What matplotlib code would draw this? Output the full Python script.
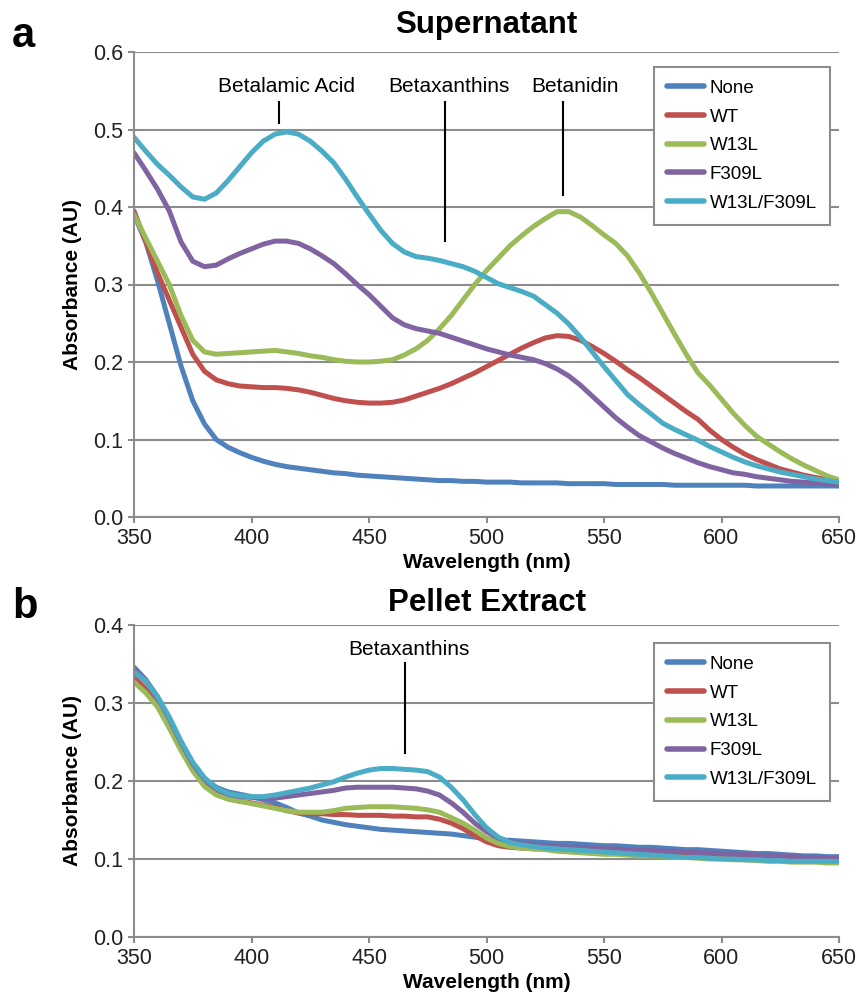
import matplotlib
matplotlib.use("Agg")
import matplotlib.pyplot as plt
from matplotlib.ticker import FormatStrFormatter

plt.rcParams['font.family'] = ['Liberation Sans', 'DejaVu Sans']

# Comprimentos de onda (nm), passo de 5 nm
wavelength = list(range(350, 655, 5))

series = ["None", "WT", "W13L", "F309L", "W13L/F309L"]
colors = ["#4F81BD", "#C0504D", "#9BBB59", "#8064A2", "#4BACC6"]

# --- Sobrenadante ---
sup_none = [0.390, 0.355, 0.305, 0.250, 0.195, 0.150, 0.120, 0.100, 0.090, 0.083,
            0.077, 0.072, 0.068, 0.065, 0.063, 0.061, 0.059, 0.057, 0.056, 0.054,
            0.053, 0.052, 0.051, 0.050, 0.049, 0.048, 0.047, 0.047, 0.046, 0.046,
            0.045, 0.045, 0.045, 0.044, 0.044, 0.044, 0.044, 0.043, 0.043, 0.043,
            0.043, 0.042, 0.042, 0.042, 0.042, 0.042, 0.041, 0.041, 0.041, 0.041,
            0.041, 0.041, 0.041, 0.040, 0.040, 0.040, 0.040, 0.040, 0.040, 0.040,
            0.040]
sup_wt = [0.395, 0.355, 0.315, 0.280, 0.245, 0.210, 0.188, 0.177, 0.172, 0.169,
          0.168, 0.167, 0.167, 0.166, 0.164, 0.161, 0.157, 0.153, 0.150, 0.148,
          0.147, 0.147, 0.148, 0.151, 0.156, 0.161, 0.166, 0.172, 0.179, 0.186,
          0.194, 0.202, 0.210, 0.218, 0.225, 0.231, 0.234, 0.233, 0.228, 0.220,
          0.211, 0.201, 0.190, 0.180, 0.169, 0.158, 0.147, 0.136, 0.126, 0.112,
          0.100, 0.090, 0.081, 0.074, 0.068, 0.062, 0.058, 0.054, 0.051, 0.048,
          0.046]
sup_w13l = [0.390, 0.360, 0.330, 0.300, 0.260, 0.228, 0.213, 0.210, 0.211, 0.212,
            0.213, 0.214, 0.215, 0.213, 0.211, 0.208, 0.206, 0.203, 0.201, 0.200,
            0.200, 0.201, 0.203, 0.209, 0.217, 0.228, 0.243, 0.260, 0.280, 0.300,
            0.318, 0.334, 0.350, 0.363, 0.375, 0.385, 0.394, 0.394, 0.387, 0.376,
            0.364, 0.353, 0.337, 0.315, 0.290, 0.263, 0.236, 0.210, 0.186, 0.170,
            0.152, 0.134, 0.118, 0.104, 0.094, 0.084, 0.075, 0.067, 0.060, 0.053,
            0.048]
sup_f309l = [0.470, 0.447, 0.423, 0.395, 0.355, 0.330, 0.323, 0.325, 0.333, 0.340,
             0.346, 0.352, 0.356, 0.356, 0.353, 0.346, 0.337, 0.327, 0.314, 0.300,
             0.287, 0.272, 0.257, 0.248, 0.243, 0.240, 0.237, 0.232, 0.227, 0.222,
             0.217, 0.213, 0.209, 0.206, 0.203, 0.198, 0.191, 0.182, 0.170, 0.156,
             0.142, 0.128, 0.116, 0.105, 0.097, 0.089, 0.082, 0.076, 0.070, 0.065,
             0.061, 0.057, 0.055, 0.052, 0.050, 0.048, 0.046, 0.045, 0.044, 0.043,
             0.042]
sup_double = [0.490, 0.472, 0.455, 0.441, 0.426, 0.413, 0.410, 0.418, 0.434, 0.452,
              0.470, 0.485, 0.494, 0.497, 0.494, 0.485, 0.472, 0.457, 0.436, 0.413,
              0.391, 0.370, 0.353, 0.342, 0.336, 0.334, 0.331, 0.327, 0.323, 0.317,
              0.309, 0.301, 0.296, 0.291, 0.285, 0.274, 0.263, 0.249, 0.232, 0.213,
              0.194, 0.176, 0.158, 0.145, 0.133, 0.121, 0.113, 0.106, 0.099, 0.091,
              0.084, 0.077, 0.071, 0.066, 0.062, 0.058, 0.055, 0.052, 0.049, 0.047,
              0.045]

# --- Extrato do pellet ---
pel_none = [0.346, 0.330, 0.308, 0.280, 0.249, 0.223, 0.203, 0.192, 0.186, 0.183,
            0.180, 0.176, 0.172, 0.166, 0.159, 0.155, 0.150, 0.147, 0.144, 0.142,
            0.140, 0.138, 0.137, 0.136, 0.135, 0.134, 0.133, 0.132, 0.130, 0.128,
            0.126, 0.124, 0.124, 0.123, 0.122, 0.121, 0.120, 0.120, 0.119, 0.118,
            0.117, 0.117, 0.116, 0.115, 0.115, 0.114, 0.113, 0.112, 0.112, 0.111,
            0.110, 0.109, 0.108, 0.107, 0.107, 0.106, 0.105, 0.104, 0.104, 0.103,
            0.103]
pel_wt = [0.333, 0.318, 0.298, 0.272, 0.243, 0.216, 0.196, 0.184, 0.177, 0.174,
          0.172, 0.169, 0.166, 0.162, 0.159, 0.158, 0.158, 0.157, 0.157, 0.156,
          0.156, 0.156, 0.155, 0.155, 0.154, 0.154, 0.151, 0.146, 0.139, 0.130,
          0.122, 0.117, 0.115, 0.114, 0.113, 0.113, 0.112, 0.112, 0.111, 0.111,
          0.110, 0.110, 0.109, 0.108, 0.108, 0.107, 0.107, 0.106, 0.106, 0.105,
          0.105, 0.104, 0.104, 0.103, 0.103, 0.102, 0.102, 0.101, 0.101, 0.100,
          0.100]
pel_w13l = [0.327, 0.313, 0.295, 0.268, 0.239, 0.213, 0.193, 0.182, 0.177, 0.174,
            0.171, 0.168, 0.165, 0.162, 0.160, 0.160, 0.160, 0.162, 0.165, 0.166,
            0.167, 0.167, 0.167, 0.166, 0.165, 0.163, 0.160, 0.153, 0.146, 0.137,
            0.127, 0.120, 0.116, 0.114, 0.113, 0.112, 0.110, 0.109, 0.108, 0.107,
            0.106, 0.106, 0.105, 0.104, 0.104, 0.103, 0.102, 0.102, 0.101, 0.100,
            0.100, 0.099, 0.099, 0.098, 0.097, 0.097, 0.096, 0.096, 0.096, 0.095,
            0.095]
pel_f309l = [0.343, 0.328, 0.307, 0.280, 0.249, 0.222, 0.202, 0.190, 0.183, 0.180,
             0.179, 0.178, 0.178, 0.180, 0.182, 0.184, 0.186, 0.188, 0.191, 0.192,
             0.192, 0.192, 0.192, 0.191, 0.190, 0.187, 0.182, 0.172, 0.160, 0.146,
             0.135, 0.127, 0.122, 0.120, 0.118, 0.117, 0.116, 0.115, 0.115, 0.114,
             0.113, 0.113, 0.112, 0.111, 0.111, 0.110, 0.110, 0.109, 0.108, 0.108,
             0.107, 0.106, 0.106, 0.105, 0.104, 0.104, 0.103, 0.102, 0.102, 0.101,
             0.101]
pel_double = [0.340, 0.328, 0.308, 0.282, 0.251, 0.224, 0.204, 0.191, 0.184, 0.181,
              0.180, 0.180, 0.182, 0.185, 0.188, 0.191, 0.195, 0.199, 0.205, 0.210,
              0.214, 0.216, 0.216, 0.215, 0.214, 0.212, 0.205, 0.192, 0.176, 0.157,
              0.140, 0.128, 0.121, 0.118, 0.116, 0.114, 0.113, 0.112, 0.111, 0.110,
              0.109, 0.108, 0.107, 0.106, 0.105, 0.104, 0.103, 0.102, 0.102, 0.101,
              0.100, 0.100, 0.099, 0.099, 0.098, 0.098, 0.097, 0.097, 0.097, 0.097,
              0.097]

supernatant = [sup_none, sup_wt, sup_w13l, sup_f309l, sup_double]
pellet = [pel_none, pel_wt, pel_w13l, pel_f309l, pel_double]

GRID = "#8c8c8c"


def estilo_eixo(ax, ymax):
    ax.set_xlim(350, 650)
    ax.set_ylim(0, ymax)
    ax.set_xticks(range(350, 651, 50))
    ax.set_yticks([i / 10 for i in range(int(round(ymax * 10)) + 1)])
    ax.yaxis.set_major_formatter(FormatStrFormatter('%.1f'))
    ax.grid(axis="y", color=GRID, linewidth=1.5)
    ax.set_axisbelow(True)
    for lado in ["top", "right"]:
        ax.spines[lado].set_visible(False)
    for lado in ["left", "bottom"]:
        ax.spines[lado].set_color(GRID)
        ax.spines[lado].set_linewidth(1.5)
    ax.tick_params(axis="both", colors=GRID, labelcolor="#222222",
                   labelsize=15.5, length=4, width=1.5, pad=4)
    ax.set_xlabel("Wavelength (nm)", fontsize=15, fontweight="bold", labelpad=3)
    ax.set_ylabel("Absorbance (AU)", fontsize=15, fontweight="bold", labelpad=8)


def legenda(ax, topo):
    leg = ax.legend(loc="upper right", bbox_to_anchor=(0.987, topo),
                    borderaxespad=0, fontsize=13.5, fancybox=False,
                    framealpha=1, edgecolor="#8c8c8c", handlelength=2.0,
                    handletextpad=0.3, labelspacing=0.62, borderpad=0.68)
    leg.get_frame().set_linewidth(1.5)
    for linha in leg.get_lines():
        linha.set_linewidth(4)


fig = plt.figure(figsize=(8.63, 9.94), dpi=100)
ax1 = fig.add_axes([134 / 863, 1 - 517 / 994, 705 / 863, 465 / 994])
ax2 = fig.add_axes([134 / 863, 1 - 937 / 994, 705 / 863, 312 / 994])

for nome, cor, valores in zip(series, colors, supernatant):
    ax1.plot(wavelength, valores, color=cor, linewidth=3.6, label=nome,
             solid_capstyle="round", solid_joinstyle="round")
for nome, cor, valores in zip(series, colors, pellet):
    ax2.plot(wavelength, valores, color=cor, linewidth=3.6, label=nome,
             solid_capstyle="round", solid_joinstyle="round")

estilo_eixo(ax1, 0.6)
estilo_eixo(ax2, 0.4)
ax1.set_title("Supernatant", fontsize=22.5, fontweight="bold", pad=14)
ax2.set_title("Pellet Extract", fontsize=22.5, fontweight="bold", pad=10)
legenda(ax1, 0.968)
legenda(ax2, 0.942)

# Marcadores dos picos
ax1.text(415, 0.548, "Betalamic Acid", ha="center", va="baseline", fontsize=15)
ax1.plot([411.7, 411.7], [0.535, 0.508], color="black", linewidth=1.5)
ax1.text(484, 0.548, "Betaxanthins", ha="center", va="baseline", fontsize=15)
ax1.plot([482.3, 482.3], [0.535, 0.356], color="black", linewidth=1.5)
ax1.text(537.7, 0.548, "Betanidin", ha="center", va="baseline", fontsize=15)
ax1.plot([532.6, 532.6], [0.535, 0.415], color="black", linewidth=1.5)

ax2.text(466.8, 0.3615, "Betaxanthins", ha="center", va="baseline", fontsize=15)
ax2.plot([465.3, 465.3], [0.351, 0.236], color="black", linewidth=1.5)

fig.text(12 / 863, 1 - 47 / 994, "a", fontsize=30, fontweight="bold", va="baseline")
fig.text(12 / 863, 1 - 618 / 994, "b", fontsize=30, fontweight="bold", va="baseline")

fig.savefig("out.png", dpi=100)
plt.close(fig)
